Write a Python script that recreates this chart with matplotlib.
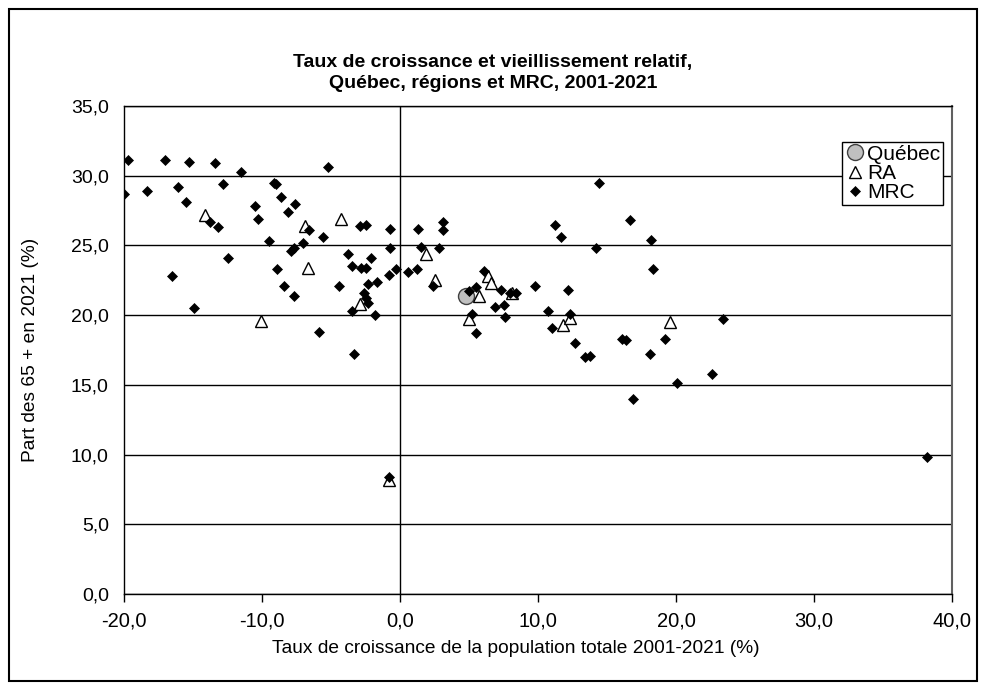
import matplotlib
matplotlib.use("Agg")
import matplotlib.pyplot as plt
from matplotlib.patches import Rectangle
from matplotlib.ticker import FuncFormatter, MultipleLocator

plt.rcParams['font.family'] = ['Liberation Sans', 'DejaVu Sans']

# Québec
qc_x = [4.8]
qc_y = [21.4]

# régions administratives (RA)
ra_x = [-14.1, -6.9, -6.7, -10.1, -4.3, 1.9, -2.9, 2.5, 6.4, 6.6, 5.7, 8.1, 5.0, 11.8, 12.3, 19.6, -0.8]
ra_y = [27.2, 26.4, 23.4, 19.6, 26.9, 24.4, 20.8, 22.5, 22.8, 22.3, 21.4, 21.6, 19.7, 19.3, 19.8, 19.5, 8.2]

# MRC
mrc_x = [-19.7, -20.0, -18.3, -17.0, -15.3, -16.1, -15.5, -16.5, -14.9, -13.4,
         -12.8, -13.8, -13.2, -12.5, -11.5, -10.5, -10.3, -9.5, -9.1, -9.0,
         -8.6, -8.1, -7.6, -8.9, -8.4, -7.7, -7.9, -7.7, -7.0, -6.6,
         -5.6, -5.2, -5.9, -4.4, -3.8, -3.5, -3.5, -3.3, -2.9, -2.5,
         -0.7, -2.1, -0.7, -2.8, -2.5, -2.3, -1.7, -0.8, -0.3, -2.6,
         -2.5, -2.3, -1.8, 0.6, 1.2, 1.3, 1.5, 2.8, 3.1, 3.1,
         2.4, -0.8, 14.4, 11.2, 11.7, 16.7, 18.2, 14.2, 18.3, 6.1,
         5.5, 5.0, 7.3, 8.0, 8.4, 9.8, 12.2, 6.9, 7.5, 7.6,
         5.2, 5.5, 10.7, 11.0, 12.3, 12.7, 13.4, 13.8, 16.1, 16.4,
         18.1, 19.2, 23.4, 22.6, 20.1, 16.9, 38.2]
mrc_y = [31.1, 28.7, 28.9, 31.1, 31.0, 29.2, 28.1, 22.8, 20.5, 30.9,
         29.4, 26.7, 26.3, 24.1, 30.3, 27.8, 26.9, 25.3, 29.5, 29.4,
         28.5, 27.4, 28.0, 23.3, 22.1, 21.4, 24.6, 24.8, 25.2, 26.1,
         25.6, 30.6, 18.8, 22.1, 24.4, 23.5, 20.3, 17.2, 26.4, 26.5,
         26.2, 24.1, 24.8, 23.4, 23.4, 22.2, 22.4, 22.9, 23.3, 21.6,
         21.2, 20.9, 20.0, 23.1, 23.3, 26.2, 24.9, 24.8, 26.7, 26.1,
         22.1, 8.4, 29.5, 26.5, 25.6, 26.8, 25.4, 24.8, 23.3, 23.2,
         22.0, 21.7, 21.8, 21.6, 21.6, 22.1, 21.8, 20.6, 20.7, 19.9,
         20.1, 18.7, 20.3, 19.1, 20.1, 18.0, 17.0, 17.1, 18.3, 18.2,
         17.2, 18.3, 19.7, 15.8, 15.1, 14.0, 9.8]

fig = plt.figure(figsize=(9.86, 6.9), dpi=100)
ax = fig.add_axes([0.1258, 0.1391, 0.8397, 0.7073])

# cadre extérieur
fig.patches.append(Rectangle((9 / 986, 9 / 690), 968 / 986, 672 / 690, transform=fig.transFigure,
                             fill=False, edgecolor='black', linewidth=1.5))

ax.plot(qc_x, qc_y, 'o', ms=11.5, mfc='#c0c0c0', mec='#404040', mew=1, label='Québec', zorder=3)
ax.plot(ra_x, ra_y, '^', ms=8, mfc='white', mec='black', mew=1, label='RA', zorder=4)
ax.plot(mrc_x, mrc_y, 'D', ms=5, mfc='black', mec='black', mew=0.5, label='MRC', zorder=5)

ax.set_xlim(-20, 40)
ax.set_ylim(0, 35)
ax.xaxis.set_major_locator(MultipleLocator(10))
ax.yaxis.set_major_locator(MultipleLocator(5))
fmt = FuncFormatter(lambda v, p: ('%.1f' % v).replace('.', ','))
ax.xaxis.set_major_formatter(fmt)
ax.yaxis.set_major_formatter(fmt)
ax.tick_params(axis='x', direction='out', length=5.8, width=1, labelsize=14.5, pad=7)
ax.tick_params(axis='y', length=0, labelsize=14, pad=11)

ax.grid(axis='y', color='black', linewidth=1)
ax.axvline(0, color='black', linewidth=1, zorder=1)
ax.set_axisbelow(True)
for s in ['left', 'bottom', 'top']:
    ax.spines[s].set_color('black')
    ax.spines[s].set_linewidth(1)
ax.spines['right'].set_color('#606060')
ax.spines['right'].set_linewidth(1.5)

ax.set_xlabel('Taux de croissance de la population totale 2001-2021 (%)', fontsize=13.8, va='center')
ax.xaxis.set_label_coords(0.473, -0.1107)
ax.set_ylabel('Part des 65 + en 2021 (%)', fontsize=13.8, va='center')
ax.yaxis.set_label_coords(-0.1135, 0.5)

fig.text(0.5, 1 - 62 / 690, 'Taux de croissance et vieillissement relatif,', ha='center', va='center',
         fontsize=14, fontweight='bold')
fig.text(0.5, 1 - 84 / 690, 'Québec, régions et MRC, 2001-2021', ha='center', va='center',
         fontsize=14, fontweight='bold')

leg = ax.legend(loc='upper right', bbox_to_anchor=(0.989, 0.926), fontsize=15, frameon=True,
                fancybox=False, handlelength=1.0, handletextpad=0.1, borderpad=0.12,
                labelspacing=0.02, borderaxespad=0, framealpha=1)
leg.get_frame().set_edgecolor('black')
leg.get_frame().set_linewidth(1)

fig.savefig('out.png', dpi=100)
